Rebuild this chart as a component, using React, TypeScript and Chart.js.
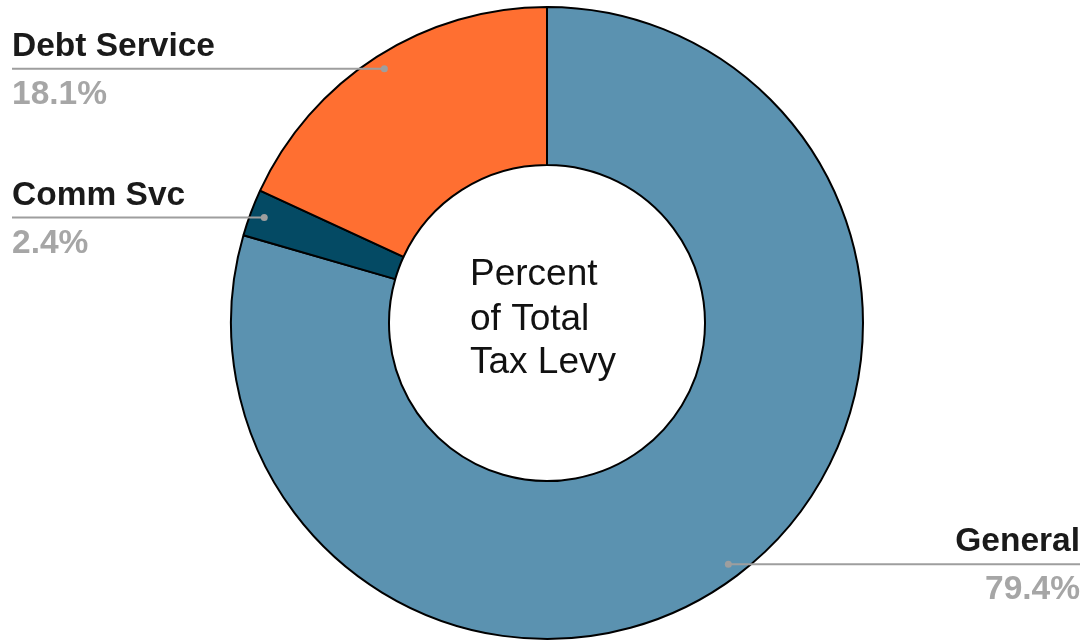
import React, { useEffect, useRef } from "react";
import { Chart, registerables } from "chart.js";

Chart.register(...registerables);

const categories = ["General", "Comm Svc", "Debt Service"];
const values = [79.4, 2.4, 18.1];
const pctLabels = ["79.4%", "2.4%", "18.1%"];
const colors = ["#5b92b0", "#044a64", "#ff6f31"];
const centerLines = ["Percent", "of Total", "Tax Levy"];

const FONT = "'Liberation Sans', Arial, Helvetica, sans-serif";

const labelPlugin = {
  id: "leaderLabels",
  afterDatasetsDraw(chart: any) {
    const ctx = chart.ctx;
    const meta = chart.getDatasetMeta(0);
    const W = chart.width;
    ctx.save();
    meta.data.forEach((arc: any, i: number) => {
      const { x, y, startAngle, endAngle, outerRadius } = arc.getProps(
        ["x", "y", "startAngle", "endAngle", "outerRadius"],
        true
      );
      const mid = (startAngle + endAngle) / 2;
      const r = outerRadius * 0.955;
      const px = x + Math.cos(mid) * r;
      const py = y + Math.sin(mid) * r;
      const left = px < x;
      const edge = left ? 12 : W - 4;
      ctx.strokeStyle = "#9e9e9e";
      ctx.lineWidth = 2;
      ctx.beginPath();
      ctx.moveTo(px, py);
      ctx.lineTo(edge, py);
      ctx.stroke();
      ctx.fillStyle = "#9e9e9e";
      ctx.beginPath();
      ctx.arc(px, py, 3.5, 0, Math.PI * 2);
      ctx.fill();
      ctx.textAlign = left ? "left" : "right";
      ctx.textBaseline = "alphabetic";
      ctx.font = `bold 33.5px ${FONT}`;
      ctx.fillStyle = "#1a1a1a";
      ctx.fillText(categories[i], edge, py - 13);
      ctx.fillStyle = "#a6a6a6";
      ctx.fillText(pctLabels[i], edge, py + 35);
    });
    // center text
    const a0 = meta.data[0];
    const cx = a0.x;
    const cy = a0.y;
    ctx.font = `37px ${FONT}`;
    ctx.fillStyle = "#111111";
    ctx.textAlign = "left";
    ctx.textBaseline = "alphabetic";
    let maxW = 0;
    centerLines.forEach((l) => {
      maxW = Math.max(maxW, ctx.measureText(l).width);
    });
    const offsets = [-38, 7, 50];
    centerLines.forEach((l, i) => {
      ctx.fillText(l, cx - maxW / 2 - 4, cy + offsets[i]);
    });
    ctx.restore();
  },
};

export default function App() {
  const ref = useRef<HTMLCanvasElement | null>(null);
  useEffect(() => {
    if (!ref.current) return;
    const chart = new Chart(ref.current, {
      type: "doughnut",
      data: {
        labels: categories,
        datasets: [
          {
            data: values,
            backgroundColor: colors,
            borderColor: "#000000",
            borderWidth: 2,
          },
        ],
      },
      options: {
        animation: false,
        responsive: true,
        maintainAspectRatio: false,
        cutout: "50%",
        layout: { padding: { top: 6, bottom: 4, left: 10, right: 0 } },
        plugins: {
          legend: { display: false },
          tooltip: { enabled: false },
        },
      },
      plugins: [labelPlugin],
    });
    return () => chart.destroy();
  }, []);
  return (
    <div
      style={{
        position: "fixed",
        left: 0,
        top: 0,
        width: 1084,
        height: 644,
        background: "#ffffff",
      }}
    >
      <canvas ref={ref} />
    </div>
  );
}
